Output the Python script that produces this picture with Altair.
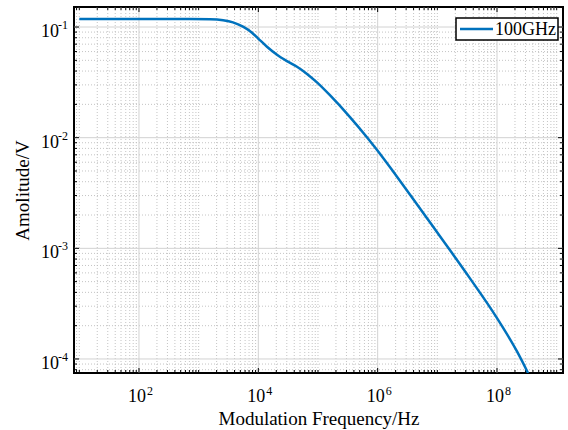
import altair as alt
import pandas as pd

# ---- data ----
freq = [10, 100, 716, 1549, 2570, 3758, 5534, 7834, 9863, 13960, 20560, 30200,
        44460, 65460, 96150, 158500, 343600, 660700, 977200, 1807000, 3467000,
        6714000, 11070000, 16220000, 35240000, 100000000, 216300000, 331000000]
amp = [0.118, 0.118, 0.1180, 0.1175, 0.1151, 0.1102, 0.1007, 0.0888, 0.0791,
       0.0664, 0.0562, 0.0492, 0.0437, 0.0377, 0.0316, 0.0242, 0.01535, 0.01009,
       0.00773, 0.00497, 0.00307, 0.00187, 0.001285, 0.000964, 0.000535, 0.000234,
       0.000117, 0.0000748]
series_name = "100GHz"

x_major = [1e2, 1e4, 1e6, 1e8]
x_exp = ["2", "4", "6", "8"]
y_major = [1e-4, 1e-3, 1e-2, 1e-1]
y_exp = ["-4", "-3", "-2", "-1"]

x_lo, x_hi = 8.15, 1.276e9
y_lo, y_hi = 7.47e-5, 0.1517

x_minor = [m * 10.0 ** e for e in range(0, 10) for m in range(1, 10)]
x_minor = [v for v in x_minor if x_lo <= v <= x_hi and v not in x_major]
y_minor = [m * 10.0 ** e for e in range(-5, 0) for m in range(2, 10)]
y_minor = [v for v in y_minor if y_lo <= v <= y_hi]

W, H = 489, 366
FONT = "Liberation Serif"
BLUE = "#0072BD"

curve_df = pd.DataFrame({"freq": freq, "amp": amp, "series": [series_name] * len(freq)})
xmaj_df = pd.DataFrame({"v": x_major, "base": ["10"] * len(x_major), "exp": x_exp})
ymaj_df = pd.DataFrame({"v": y_major, "base": ["10"] * len(y_major), "exp": y_exp})
xmin_df = pd.DataFrame({"v": x_minor})
ymin_df = pd.DataFrame({"v": y_minor})
leg_df = pd.DataFrame({"series": [series_name]})

xs = alt.Scale(type="log", domain=[x_lo, x_hi], nice=False)
ys = alt.Scale(type="log", domain=[y_lo, y_hi], nice=False)
xax = alt.Axis(title="Modulation Frequency/Hz", labels=False, ticks=False, domain=False,
               grid=False, titleFont=FONT, titleFontSize=19, titleFontWeight="normal",
               titleColor="black", titlePadding=36)
yax = alt.Axis(title="Amolitude/V", labels=False, ticks=False, domain=False,
               grid=False, titleFont=FONT, titleFontSize=19, titleFontWeight="normal",
               titleColor="black", titlePadding=42)


def X(f):
    return alt.X(f, type="quantitative", scale=xs, axis=xax)


def Y(f):
    return alt.Y(f, type="quantitative", scale=ys, axis=yax)


minor_grid = dict(color="#bdbdbd", strokeDash=[1, 2], strokeWidth=0.9)
major_grid = dict(color="#d2d2d2", strokeWidth=1)

gx_min = alt.Chart(xmin_df).mark_rule(**minor_grid).encode(x=X("v"))
gy_min = alt.Chart(ymin_df).mark_rule(**minor_grid).encode(y=Y("v"))
gx_maj = alt.Chart(xmaj_df).mark_rule(**major_grid).encode(x=X("v"))
gy_maj = alt.Chart(ymaj_df).mark_rule(**major_grid).encode(y=Y("v"))

tk = dict(color="black", strokeWidth=1)
ticks = [
    alt.Chart(xmin_df).mark_rule(**tk).encode(x=X("v"), y=alt.value(H), y2=alt.value(H - 3)),
    alt.Chart(xmin_df).mark_rule(**tk).encode(x=X("v"), y=alt.value(0), y2=alt.value(3)),
    alt.Chart(xmaj_df).mark_rule(**tk).encode(x=X("v"), y=alt.value(H), y2=alt.value(H - 5)),
    alt.Chart(xmaj_df).mark_rule(**tk).encode(x=X("v"), y=alt.value(0), y2=alt.value(5)),
    alt.Chart(ymin_df).mark_rule(**tk).encode(y=Y("v"), x=alt.value(0), x2=alt.value(3)),
    alt.Chart(ymin_df).mark_rule(**tk).encode(y=Y("v"), x=alt.value(W), x2=alt.value(W - 3)),
    alt.Chart(ymaj_df).mark_rule(**tk).encode(y=Y("v"), x=alt.value(0), x2=alt.value(5)),
    alt.Chart(ymaj_df).mark_rule(**tk).encode(y=Y("v"), x=alt.value(W), x2=alt.value(W - 5)),
]

curve = alt.Chart(curve_df).mark_line(
    color=BLUE, strokeWidth=2.5, interpolate="monotone", clip=True
).encode(x=X("freq"), y=Y("amp"))

txt = dict(font=FONT, color="black", baseline="alphabetic")
xl_base = alt.Chart(xmaj_df).mark_text(fontSize=18, align="right", dx=7, **txt).encode(
    x=X("v"), y=alt.value(H + 29), text="base:N")
xl_exp = alt.Chart(xmaj_df).mark_text(fontSize=12, align="left", dx=8, **txt).encode(
    x=X("v"), y=alt.value(H + 22), text="exp:N")
yl_base = alt.Chart(ymaj_df).mark_text(fontSize=18, align="right", dy=10, **txt).encode(
    y=Y("v"), x=alt.value(-15), text="base:N")
yl_exp = alt.Chart(ymaj_df).mark_text(fontSize=12, align="right", dy=2, **txt).encode(
    y=Y("v"), x=alt.value(-6), text="exp:N")

# legend box (drawn by hand so the row stays flat like the original)
leg_box = alt.Chart(leg_df).mark_rect(fill="white", stroke="black", strokeWidth=1.5).encode(
    x=alt.value(382), x2=alt.value(484), y=alt.value(11), y2=alt.value(33))
leg_line = alt.Chart(leg_df).mark_rule(color=BLUE, strokeWidth=2.5).encode(
    x=alt.value(386), x2=alt.value(419), y=alt.value(22))
leg_text = alt.Chart(leg_df).mark_text(font=FONT, fontSize=18, align="left", baseline="middle",
                                       color="black").encode(
    x=alt.value(421), y=alt.value(23), text="series:N")

chart = alt.layer(
    gx_min, gy_min, gx_maj, gy_maj, *ticks, curve,
    xl_base, xl_exp, yl_base, yl_exp, leg_box, leg_line, leg_text
).properties(
    width=W, height=H,
    padding={"left": 74, "top": 7, "right": 5, "bottom": 57},
    autosize=alt.AutoSizeParams(type="none"),
    background="white",
).configure_view(stroke="black", strokeWidth=2)

chart.save("out.html", embed_options={"renderer": "svg", "actions": False})
